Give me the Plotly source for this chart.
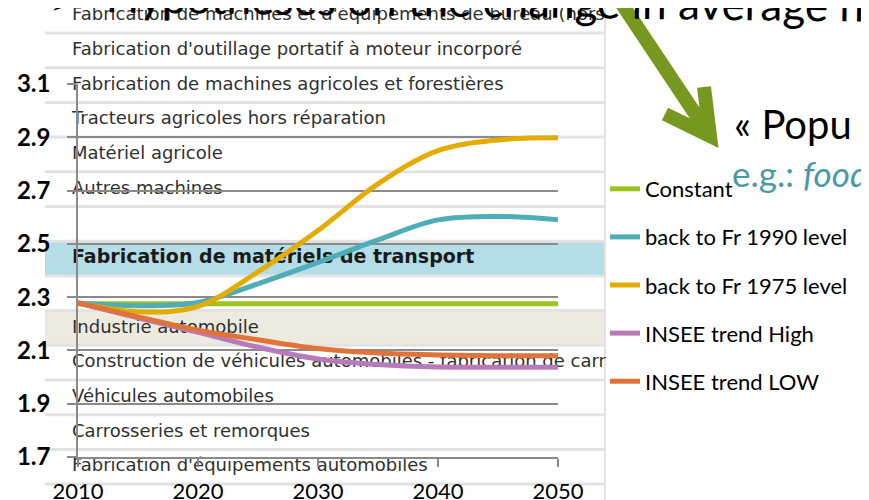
import plotly.graph_objects as go

# chart data
years = [2010, 2015, 2020, 2025, 2030, 2035, 2040, 2045, 2050]
constant = [2.275, 2.275, 2.275, 2.275, 2.275, 2.275, 2.275, 2.275, 2.275]
fr_1990 = [2.278, 2.268, 2.28, 2.35, 2.43, 2.515, 2.59, 2.603, 2.59]
fr_1975 = [2.278, 2.245, 2.265, 2.395, 2.55, 2.725, 2.85, 2.89, 2.898]
insee_high = [2.278, 2.222, 2.168, 2.112, 2.068, 2.047, 2.038, 2.037, 2.037]
insee_low = [2.278, 2.226, 2.176, 2.14, 2.107, 2.09, 2.083, 2.08, 2.08]

series_names = ["Constant", "back to Fr 1990 level", "back to Fr 1975 level",
                "INSEE trend High", "INSEE trend LOW"]
series_colors = ["#9CC31F", "#4FADB8", "#E2AC00", "#B67BB8", "#E0733A"]
series_values = [constant, fr_1990, fr_1975, insee_high, insee_low]

x_ticks = [2010, 2020, 2030, 2040, 2050]
y_ticks = [1.7, 1.9, 2.1, 2.3, 2.5, 2.7, 2.9, 3.1]
y_tick_labels = ["1.7", "1.9", "2.1", "2.3", "2.5", "2.7", "2.9", "3.1"]

# background table (screenshot behind the chart)
table_rows = [
    "Fabrication de machines et d'équipements de bureau (hors",
    "Fabrication d'outillage portatif à moteur incorporé",
    "Fabrication de machines agricoles et forestières",
    "Tracteurs agricoles hors réparation",
    "Matériel agricole",
    "Autres machines",
    "",
    "",
    "",
    "Industrie automobile",
    "Construction de véhicules automobiles - fabrication de carr",
    "Véhicules automobiles",
    "Carrosseries et remorques",
    "Fabrication d'équipements automobiles",
]
bold_row = "Fabrication de matériels de transport"

# page pixels; the page body adds an 8px margin around the figure
OFF = 8
W, H = 869 - OFF, 500 - OFF
PL, PR, PT, PB = 78, 558, 84, 457


def fx(p):
    return (p - OFF) / W


def fy(p):
    return 1 - (p - OFF) / H


ROW_H = 34.7
row_centers = [15.8 + ROW_H * i for i in range(len(table_rows))]

fig = go.Figure()

# table text on a full-page pixel subplot, drawn under the chart subplot
fig.add_trace(
    go.Scatter(
        x=[72] * len(table_rows),
        y=row_centers,
        text=table_rows,
        mode="text",
        textposition="middle right",
        textfont=dict(family="DejaVu Sans", size=18, color="#303030"),
        hoverinfo="skip",
        showlegend=False,
        xaxis="x",
        yaxis="y",
    )
)
fig.add_trace(
    go.Scatter(
        x=[72],
        y=[row_centers[7]],
        text=["<b>" + bold_row + "</b>"],
        mode="text",
        textposition="middle right",
        textfont=dict(family="DejaVu Sans", size=19, color="#1a1a1a"),
        hoverinfo="skip",
        showlegend=False,
        xaxis="x",
        yaxis="y",
    )
)

for name, color, vals in zip(series_names, series_colors, series_values):
    fig.add_trace(
        go.Scatter(
            x=years,
            y=vals,
            name=name,
            mode="lines",
            line=dict(color=color, width=5, shape="spline", smoothing=1),
            legendgroup=name,
            xaxis="x2",
            yaxis="y2",
        )
    )

shapes = []
# coloured bands of the table
shapes.append(dict(type="rect", xref="paper", yref="paper", layer="below",
                   x0=fx(45), x1=fx(605), y0=fy(277), y1=fy(242),
                   fillcolor="#B5DDE7", line_width=0))
shapes.append(dict(type="rect", xref="paper", yref="paper", layer="below",
                   x0=fx(45), x1=fx(605), y0=fy(346), y1=fy(311),
                   fillcolor="#EDEBE0", line_width=0))
for i in range(14):
    yy = 33 + ROW_H * i
    shapes.append(dict(type="line", xref="paper", yref="paper", layer="below",
                       x0=fx(45), x1=fx(605), y0=fy(yy), y1=fy(yy),
                       line=dict(color="#e3e3e3", width=3)))
shapes.append(dict(type="line", xref="paper", yref="paper", layer="below",
                   x0=fx(605), x1=fx(605), y0=fy(0), y1=fy(500),
                   line=dict(color="#e3e3e3", width=2)))

# big green arrow of the slide
pts = [(614, -8), (710, 136), (665, 114), (710, 136), (704, 87)]
path = "M {},{} L {},{} M {},{} L {},{} L {},{}".format(
    *[v for p in pts for v in (fx(p[0]), fy(p[1]))]
)
shapes.append(dict(type="path", xref="paper", yref="paper", layer="above",
                   path=path, line=dict(color="#76981F", width=14)))

annotations = [
    dict(text="➢", x=fx(47), y=fy(2), xref="paper", yref="paper",
         xanchor="left", yanchor="middle", showarrow=False,
         font=dict(family="DejaVu Sans", size=36, color="black")),
    dict(text="Hypotheses on the change in average h", x=fx(104), y=fy(0),
         xref="paper", yref="paper", xanchor="left", yanchor="middle",
         textangle=0.7, showarrow=False,
         font=dict(family="Lato", size=44, color="black")),
    dict(text="« Popu", x=fx(732), y=fy(124), xref="paper", yref="paper",
         xanchor="left", yanchor="middle", showarrow=False,
         font=dict(family="Lato", size=40, color="black")),
    dict(text="e.g.: <i>food</i>", x=fx(730), y=fy(173), xref="paper",
         yref="paper", xanchor="left", yanchor="middle", showarrow=False,
         font=dict(family="Lato", size=35, color="#4A9AA6")),
]

fig.update_layout(
    width=W,
    height=H,
    margin=dict(l=0, r=0, t=0, b=0, autoexpand=False),
    paper_bgcolor="white",
    plot_bgcolor="rgba(0,0,0,0)",
    xaxis=dict(domain=[0, 1], range=[OFF, 869], visible=False, fixedrange=True),
    yaxis=dict(domain=[0, 1], range=[500, OFF], visible=False, fixedrange=True),
    xaxis2=dict(
        domain=[fx(PL), fx(PR)],
        anchor="y2",
        range=[2010, 2050],
        tickvals=x_ticks,
        ticks="outside",
        ticklen=8,
        tickcolor="#8a8a8a",
        tickwidth=1.5,
        showline=True,
        linecolor="#8a8a8a",
        linewidth=1.5,
        showgrid=False,
        zeroline=False,
        ticklabelstandoff=6,
        tickfont=dict(family="Lato", size=22, color="black"),
    ),
    yaxis2=dict(
        domain=[fy(PB), fy(PT)],
        anchor="x2",
        range=[1.7, 3.1],
        tickvals=y_ticks,
        ticktext=y_tick_labels,
        ticks="outside",
        ticklen=9,
        tickcolor="#8a8a8a",
        tickwidth=1.5,
        showline=True,
        linecolor="#8a8a8a",
        linewidth=1.5,
        showgrid=True,
        gridcolor="#8a8a8a",
        gridwidth=1.5,
        zeroline=False,
        ticklabelstandoff=12,
        tickfont=dict(family="Lato", size=24, color="black", weight="bold"),
    ),
    legend=dict(
        x=fx(605),
        y=fy(168),
        xanchor="left",
        yanchor="top",
        bgcolor="rgba(0,0,0,0)",
        font=dict(family="Lato", size=22, color="black"),
        tracegroupgap=16.5,
    ),
    shapes=shapes,
    annotations=annotations,
)

fig.write_html("out.html")
